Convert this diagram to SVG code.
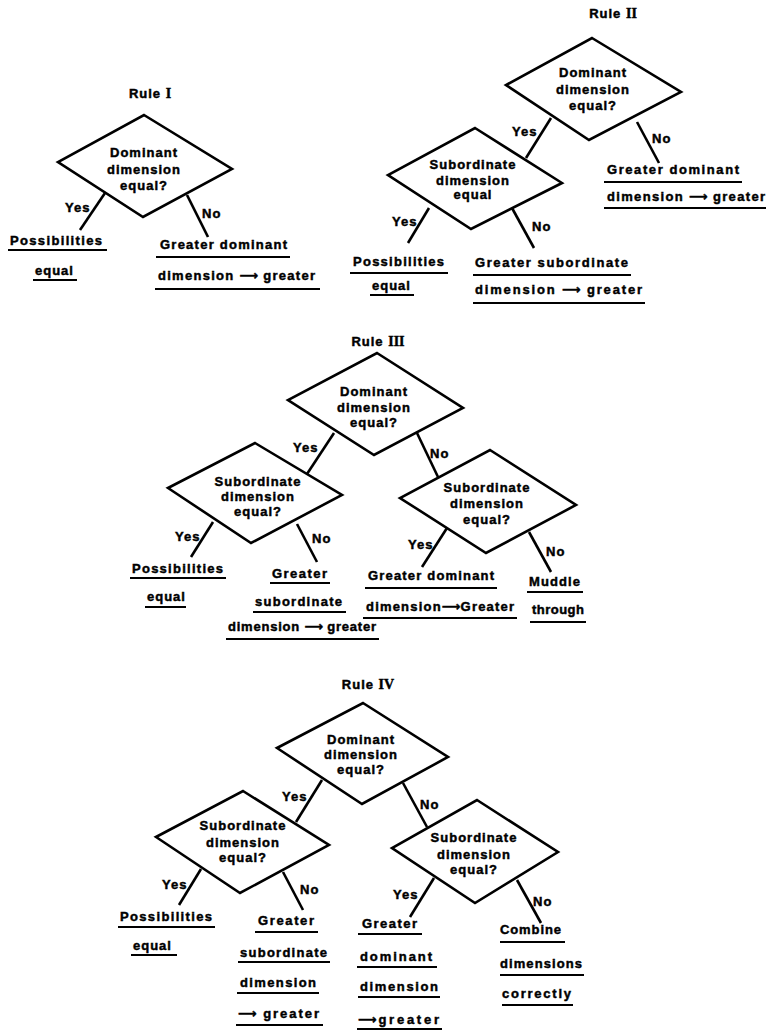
<svg xmlns="http://www.w3.org/2000/svg" width="766" height="1032" viewBox="0 0 766 1032">
<style>
.d { fill: none; stroke: #000; stroke-width: 2.6; stroke-linejoin: miter; }
.c line { stroke: #000; stroke-width: 2.6; }
.u { stroke: #000; stroke-width: 2; }
text { font-family: "Liberation Sans", Arial, sans-serif; font-weight: bold; font-size: 13px; letter-spacing: 1px; fill: #000; stroke: #000; stroke-width: 0.45px; }
.m { text-anchor: middle; }
.rn { font-family: "Liberation Serif", "Times New Roman", serif; font-weight: bold; font-size: 14px; letter-spacing: 0; }
.ar { font-family: "DejaVu Sans", sans-serif; letter-spacing: 0; }
</style>
<rect width="766" height="1032" fill="#fff"/>

<!-- ===== Rule I ===== -->
<g id="r1-title"><text x="150" y="98" class="m">Rule <tspan class="rn">I</tspan></text></g>
<g id="r1-d">
<polygon class="d" points="144,115 232,169 143,217 58,162"/>
<text x="144" y="157" class="m">Dominant</text>
<text x="144" y="174" class="m">dimension</text>
<text x="144" y="190" class="m">equal?</text>
</g>
<g id="r1-yes">
<text x="10" y="245" textLength="93">Possibilities</text><line class="u" x1="8" y1="250" x2="107" y2="250"/>
<text x="35" y="275">equal</text><line class="u" x1="33" y1="280" x2="77" y2="280"/>
</g>
<g id="r1-no">
<text x="160" y="249" textLength="128">Greater dominant</text><line class="u" x1="156" y1="257" x2="290" y2="257"/>
<text x="158" y="280" textLength="158">dimension <tspan class="ar">⟶</tspan> greater</text><line class="u" x1="155" y1="289" x2="320" y2="289"/>
</g>

<!-- ===== Rule II ===== -->
<g id="r2-title"><text x="613" y="18" class="m">Rule <tspan class="rn">II</tspan></text></g>
<g id="r2-d1">
<polygon class="d" points="592,38 681,92 589,140 506,85"/>
<text x="593" y="77" class="m">Dominant</text>
<text x="593" y="94" class="m">dimension</text>
<text x="593" y="110" class="m">equal?</text>
</g>
<g id="r2-d2">
<polygon class="d" points="475,128 562,183 471,229 388,175"/>
<text x="473" y="169" class="m">Subordinate</text>
<text x="473" y="185" class="m">dimension</text>
<text x="473" y="199" class="m">equal</text>
</g>
<g id="r2-no">
<text x="607" y="174" textLength="133">Greater dominant</text><line class="u" x1="604" y1="182" x2="742" y2="182"/>
<text x="607" y="201" textLength="159">dimension <tspan class="ar">⟶</tspan> greater</text><line class="u" x1="604" y1="208" x2="766" y2="208"/>
</g>
<g id="r2-yes-yes">
<text x="353" y="266" textLength="92">Possibilities</text><line class="u" x1="350" y1="273" x2="448" y2="273"/>
<text x="372" y="290">equal</text><line class="u" x1="370" y1="295" x2="414" y2="295"/>
</g>
<g id="r2-yes-no">
<text x="475" y="267" textLength="154">Greater subordinate</text><line class="u" x1="473" y1="275" x2="631" y2="275"/>
<text x="475" y="294" textLength="168">dimension <tspan class="ar">⟶</tspan> greater</text><line class="u" x1="473" y1="303" x2="645" y2="303"/>
</g>

<!-- ===== Rule III ===== -->
<g id="r3-title"><text x="378" y="346" class="m">Rule <tspan class="rn">III</tspan></text></g>
<g id="r3-d1">
<polygon class="d" points="377,353 463,408 374,455 288,400"/>
<text x="374" y="396" class="m">Dominant</text>
<text x="374" y="412" class="m">dimension</text>
<text x="374" y="427" class="m">equal?</text>
</g>
<g id="r3-d2">
<polygon class="d" points="255,443 342,495 251,543 168,488"/>
<text x="258" y="486" class="m">Subordinate</text>
<text x="258" y="501" class="m">dimension</text>
<text x="258" y="516" class="m">equal?</text>
</g>
<g id="r3-d3">
<polygon class="d" points="490,450 576,505 486,553 400,498"/>
<text x="487" y="492" class="m">Subordinate</text>
<text x="487" y="508" class="m">dimension</text>
<text x="487" y="524" class="m">equal?</text>
</g>
<g id="r3-yy">
<text x="132" y="573" textLength="92">Possibilities</text><line class="u" x1="130" y1="578" x2="226" y2="578"/>
<text x="147" y="601">equal</text><line class="u" x1="145" y1="607" x2="186" y2="607"/>
</g>
<g id="r3-yn">
<text x="272" y="578" textLength="56">Greater</text><line class="u" x1="270" y1="583" x2="330" y2="583"/>
<text x="255" y="606" textLength="88">subordinate</text><line class="u" x1="253" y1="612" x2="346" y2="612"/>
<text x="228" y="631" textLength="149">dimension <tspan class="ar">⟶</tspan> greater</text><line class="u" x1="226" y1="639" x2="379" y2="639"/>
</g>
<g id="r3-ny">
<text x="368" y="580" textLength="127">Greater dominant</text><line class="u" x1="365" y1="588" x2="497" y2="588"/>
<text x="366" y="611" textLength="149">dimension<tspan class="ar">⟶</tspan>Greater</text><line class="u" x1="363" y1="618" x2="517" y2="618"/>
</g>
<g id="r3-nn">
<text x="529" y="586" textLength="52">Muddle</text><line class="u" x1="527" y1="592" x2="583" y2="592"/>
<text x="532" y="614" textLength="53">through</text><line class="u" x1="530" y1="622" x2="586" y2="622"/>
</g>

<!-- ===== Rule IV ===== -->
<g id="r4-title"><text x="368" y="689" class="m">Rule <tspan class="rn">IV</tspan></text></g>
<g id="r4-d1">
<polygon class="d" points="363,703 448,757 362,804 277,748"/>
<text x="361" y="744" class="m">Dominant</text>
<text x="361" y="759" class="m">dimension</text>
<text x="361" y="774" class="m">equal?</text>
</g>
<g id="r4-d2">
<polygon class="d" points="243,791 329,845 240,893 156,837"/>
<text x="243" y="830" class="m">Subordinate</text>
<text x="243" y="847" class="m">dimension</text>
<text x="243" y="862" class="m">equal?</text>
</g>
<g id="r4-d3">
<polygon class="d" points="477,800 558,852 475,903 392,848"/>
<text x="474" y="842" class="m">Subordinate</text>
<text x="474" y="859" class="m">dimension</text>
<text x="474" y="874" class="m">equal?</text>
</g>
<g id="r4-yy">
<text x="120" y="921" textLength="93">Possibilities</text><line class="u" x1="118" y1="927" x2="215" y2="927"/>
<text x="133" y="950">equal</text><line class="u" x1="131" y1="955" x2="177" y2="955"/>
</g>
<g id="r4-yn">
<text x="258" y="925" textLength="57">Greater</text><line class="u" x1="255" y1="932" x2="318" y2="932"/>
<text x="240" y="957" textLength="88">subordinate</text><line class="u" x1="238" y1="962" x2="330" y2="962"/>
<text x="240" y="987" textLength="77">dimension</text><line class="u" x1="237" y1="993" x2="319" y2="993"/>
<text x="238" y="1018" textLength="82"><tspan class="ar">⟶</tspan> greater</text><line class="u" x1="236" y1="1025" x2="323" y2="1025"/>
</g>
<g id="r4-ny">
<text x="362" y="928" textLength="56">Greater</text><line class="u" x1="358" y1="934" x2="422" y2="934"/>
<text x="360" y="961" textLength="73">dominant</text><line class="u" x1="357" y1="967" x2="437" y2="967"/>
<text x="360" y="991" textLength="79">dimension</text><line class="u" x1="358" y1="997" x2="440" y2="997"/>
<text x="358" y="1024" textLength="82"><tspan class="ar">⟶</tspan>greater</text><line class="u" x1="357" y1="1029" x2="442" y2="1029"/>
</g>
<g id="r4-nn">
<text x="500" y="934" textLength="62">Combine</text><line class="u" x1="500" y1="942" x2="565" y2="942"/>
<text x="500" y="968" textLength="83">dimensions</text><line class="u" x1="500" y1="975" x2="584" y2="975"/>
<text x="502" y="998" textLength="70">correctly</text><line class="u" x1="502" y1="1005" x2="573" y2="1005"/>
</g>

<!-- ===== Connectors ===== -->
<g id="connectors" class="c">
<line x1="105" y1="193" x2="80" y2="230"/><text x="65" y="212">Yes</text>
<line x1="187" y1="195" x2="208" y2="237"/><text x="202" y="218">No</text>

<line x1="551" y1="118" x2="526" y2="158"/><text x="512" y="136">Yes</text>
<line x1="637" y1="122" x2="659" y2="163"/><text x="652" y="143">No</text>
<line x1="429" y1="208" x2="408" y2="243"/><text x="392" y="226">Yes</text>
<line x1="512" y1="208" x2="534" y2="248"/><text x="532" y="231">No</text>

<line x1="334" y1="433" x2="307" y2="474"/><text x="293" y="452">Yes</text>
<line x1="417" y1="433" x2="438" y2="477"/><text x="430" y="458">No</text>
<line x1="213" y1="522" x2="191" y2="557"/><text x="175" y="541">Yes</text>
<line x1="297" y1="524" x2="317" y2="562"/><text x="312" y="543">No</text>
<line x1="447" y1="528" x2="422" y2="567"/><text x="408" y="549">Yes</text>
<line x1="529" y1="532" x2="551" y2="572"/><text x="546" y="556">No</text>

<line x1="322" y1="780" x2="296" y2="822"/><text x="282" y="801">Yes</text>
<line x1="403" y1="783" x2="427" y2="827"/><text x="420" y="809">No</text>
<line x1="201" y1="869" x2="179" y2="905"/><text x="162" y="889">Yes</text>
<line x1="283" y1="872" x2="303" y2="910"/><text x="300" y="894">No</text>
<line x1="434" y1="878" x2="410" y2="917"/><text x="393" y="899">Yes</text>
<line x1="517" y1="880" x2="541" y2="923"/><text x="533" y="906">No</text>
</g>
</svg>
